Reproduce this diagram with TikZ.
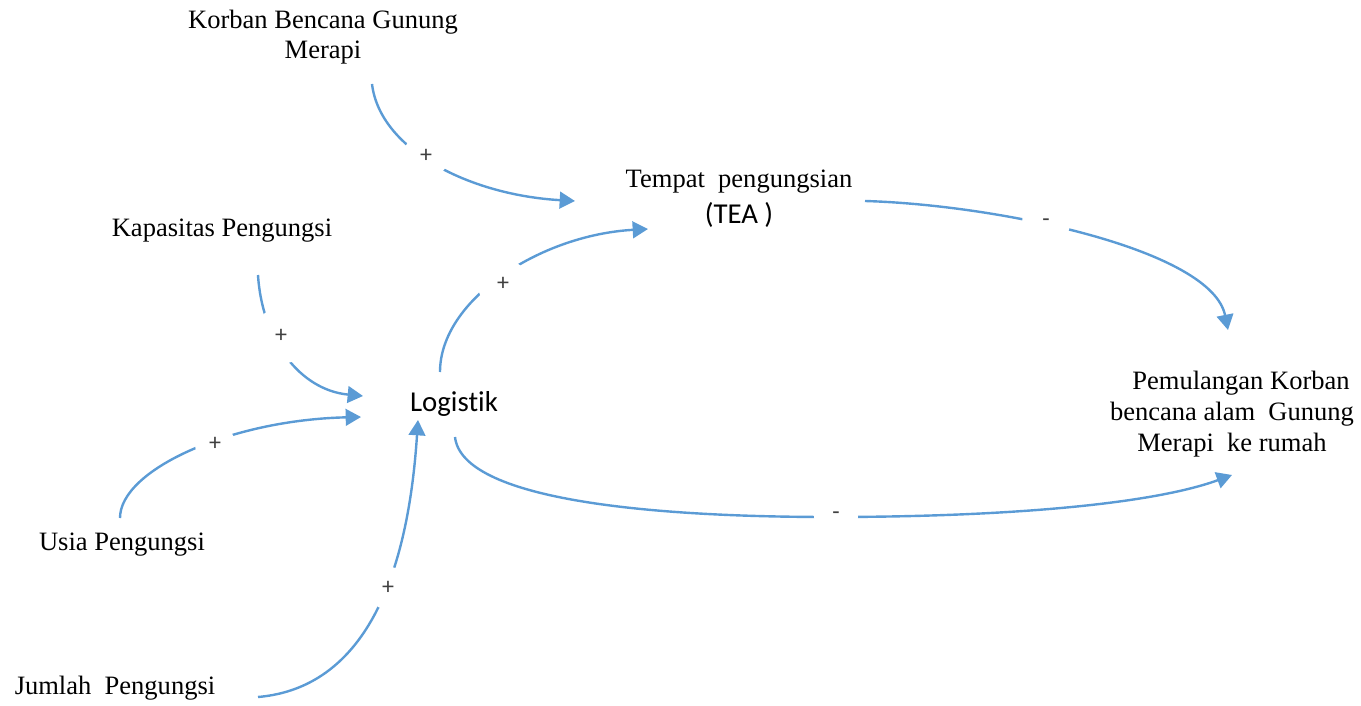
\documentclass[tikz,border=0pt]{standalone}
\usepackage{fontspec}
\setmainfont{Liberation Serif}
\newfontfamily\calibri[Ligatures=NoCommon]{Carlito}
\usetikzlibrary{arrows.meta}
\definecolor{linkblue}{HTML}{5B9BD5}
\definecolor{signgray}{HTML}{404040}

\begin{document}
\begin{tikzpicture}[x=0.75pt,y=-0.75pt,
  var/.style={inner sep=0pt, align=center, font=\fontsize{19.9}{23}\selectfont},
  sansvar/.style={inner sep=0pt, font=\calibri\fontsize{21.6}{26}\selectfont},
  link/.style={draw=linkblue, line width=1.8pt, -{Triangle[length=11.5pt,width=12.5pt]}},
  sign/.style={circle, fill=white, inner sep=0pt, minimum size=#1,
    text=signgray, font=\calibri\fontsize{18}{20}\selectfont}]
  \useasboundingbox (0,0) rectangle (1361,706);

  % variables
  \node[var] (korban) at (323,37) {Korban Bencana Gunung\\Merapi};
  \node[var] (kapasitas) at (222,231) {Kapasitas Pengungsi};
  \node[var] (usia) at (122,545) {Usia Pengungsi};
  \node[var] (jumlah) at (115,688) {Jumlah\ \ Pengungsi};
  \node[sansvar] (logistik) at (454,404) {Logistik};
  \node[var] (tempat) at (739,199) {Tempat\ \ pengungsian\\[4pt]{\calibri\fontsize{21.6}{26}\selectfont (TEA )}};
  \node[var] (pulang) at (1232,414)
    {\hspace*{13.5pt}Pemulangan Korban\\bencana alam\ \ Gunung\\Merapi\ \ ke rumah};

  % connector end points
  \coordinate (korban-out) at (372,84);
  \coordinate (tempat-in1) at (575,201);
  \coordinate (tempat-in2) at (648,229);
  \coordinate (tempat-out) at (865,201);
  \coordinate (pulang-in1) at (1228,330);
  \coordinate (pulang-in2) at (1232,475);
  \coordinate (kapasitas-out) at (258,275);
  \coordinate (usia-out) at (120,518);
  \coordinate (jumlah-out) at (258,697);
  \coordinate (logistik-in1) at (363,396);
  \coordinate (logistik-in2) at (361,417);
  \coordinate (logistik-in3) at (418,420);
  \coordinate (logistik-up) at (440,372);
  \coordinate (logistik-down) at (455,437);

  % causal links
  \draw[link] (korban-out) .. controls (380,150) and (470,195) .. (tempat-in1);
  \draw[link] (tempat-out) .. controls (1000,205) and (1212,250) .. (pulang-in1);
  \draw[link] (logistik-up) .. controls (440,300) and (540,235) .. (tempat-in2);
  \draw[link] (kapasitas-out) .. controls (262,340) and (300,390) .. (logistik-in1);
  \draw[link] (usia-out) .. controls (120,470) and (230,420) .. (logistik-in2);
  \draw[link] (jumlah-out) .. controls (340,690) and (405,620) .. (logistik-in3);
  \draw[link] (logistik-down) .. controls (462,500) and (650,517) .. (830,517)
              .. controls (1000,517) and (1150,505) .. (pulang-in2);

  % polarity signs
  \node[sign=34pt] (s1) at (426,156) {+};
  \node[sign=36pt] (s2) at (1046,223) {-};
  \node[sign=38pt] (s3) at (503,284) {+};
  \node[sign=42pt] (s4) at (281,336) {+};
  \node[sign=30pt] (s5) at (215,444) {+};
  \node[sign=32pt] (s6) at (388,588) {+};
  \node[sign=33pt] (s7) at (836,516) {-};
\end{tikzpicture}
\end{document}
